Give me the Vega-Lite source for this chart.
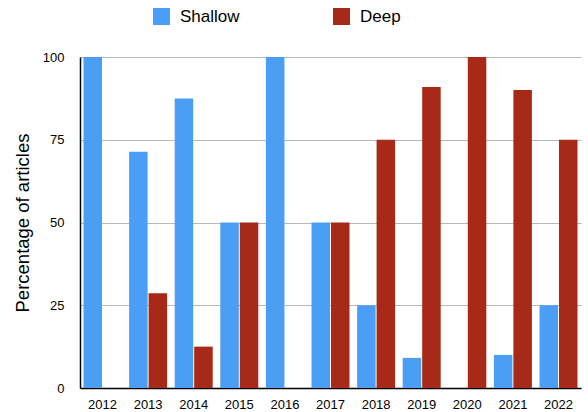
{
  "$schema": "https://vega.github.io/schema/vega-lite/v6.json",
  "width": 501,
  "height": 331,
  "autosize": {"type": "none"},
  "padding": {"left": 80, "top": 57, "right": 7, "bottom": 24},
  "background": "white",
  "data": {
    "values": [
      {"year": "2012", "type": "Shallow", "pct": 100},
      {"year": "2012", "type": "Deep", "pct": 0},
      {"year": "2013", "type": "Shallow", "pct": 71.4},
      {"year": "2013", "type": "Deep", "pct": 28.6},
      {"year": "2014", "type": "Shallow", "pct": 87.5},
      {"year": "2014", "type": "Deep", "pct": 12.5},
      {"year": "2015", "type": "Shallow", "pct": 50},
      {"year": "2015", "type": "Deep", "pct": 50},
      {"year": "2016", "type": "Shallow", "pct": 100},
      {"year": "2016", "type": "Deep", "pct": 0},
      {"year": "2017", "type": "Shallow", "pct": 50},
      {"year": "2017", "type": "Deep", "pct": 50},
      {"year": "2018", "type": "Shallow", "pct": 25},
      {"year": "2018", "type": "Deep", "pct": 75},
      {"year": "2019", "type": "Shallow", "pct": 9.1},
      {"year": "2019", "type": "Deep", "pct": 90.9},
      {"year": "2020", "type": "Shallow", "pct": 0},
      {"year": "2020", "type": "Deep", "pct": 100},
      {"year": "2021", "type": "Shallow", "pct": 10},
      {"year": "2021", "type": "Deep", "pct": 90},
      {"year": "2022", "type": "Shallow", "pct": 25},
      {"year": "2022", "type": "Deep", "pct": 75}
    ]
  },
  "mark": {"type": "bar"},
  "encoding": {
    "x": {
      "field": "year",
      "type": "nominal",
      "scale": {"paddingInner": 0.167, "paddingOuter": 0.077},
      "axis": {
        "title": null,
        "labelAngle": 0,
        "ticks": false,
        "domainColor": "#000000",
        "domainWidth": 1.5,
        "labelFont": "Liberation Sans",
        "labelFontSize": 13,
        "labelColor": "#000000",
        "labelPadding": 10,
        "grid": false
      }
    },
    "xOffset": {
      "field": "type",
      "type": "nominal",
      "sort": ["Shallow", "Deep"],
      "scale": {"paddingInner": 0.05}
    },
    "y": {
      "field": "pct",
      "type": "quantitative",
      "scale": {"domain": [0, 100], "nice": false},
      "axis": {
        "title": "Percentage of articles",
        "titleFont": "Liberation Sans",
        "titleFontSize": 18.5,
        "titleFontWeight": "normal",
        "titleColor": "#000000",
        "titlePadding": 10,
        "values": [0, 25, 50, 75, 100],
        "ticks": false,
        "domainColor": "#000000",
        "domainWidth": 1.5,
        "labelFont": "Liberation Sans",
        "labelFontSize": 13,
        "labelColor": "#000000",
        "labelPadding": 16,
        "gridColor": "#b8b8b8",
        "gridWidth": 1.2
      }
    },
    "color": {
      "field": "type",
      "type": "nominal",
      "sort": ["Shallow", "Deep"],
      "scale": {"domain": ["Shallow", "Deep"], "range": ["#4A9FF5", "#A62A17"]},
      "legend": {
        "title": null,
        "orient": "none",
        "direction": "horizontal",
        "legendX": 73,
        "legendY": -49,
        "symbolType": "square",
        "symbolSize": 289,
        "symbolStrokeWidth": 0,
        "labelFont": "Liberation Sans",
        "labelFontSize": 17,
        "labelColor": "#000000",
        "labelOffset": 10,
        "columnPadding": 93
      }
    }
  },
  "config": {
    "view": {"stroke": null}
  }
}
